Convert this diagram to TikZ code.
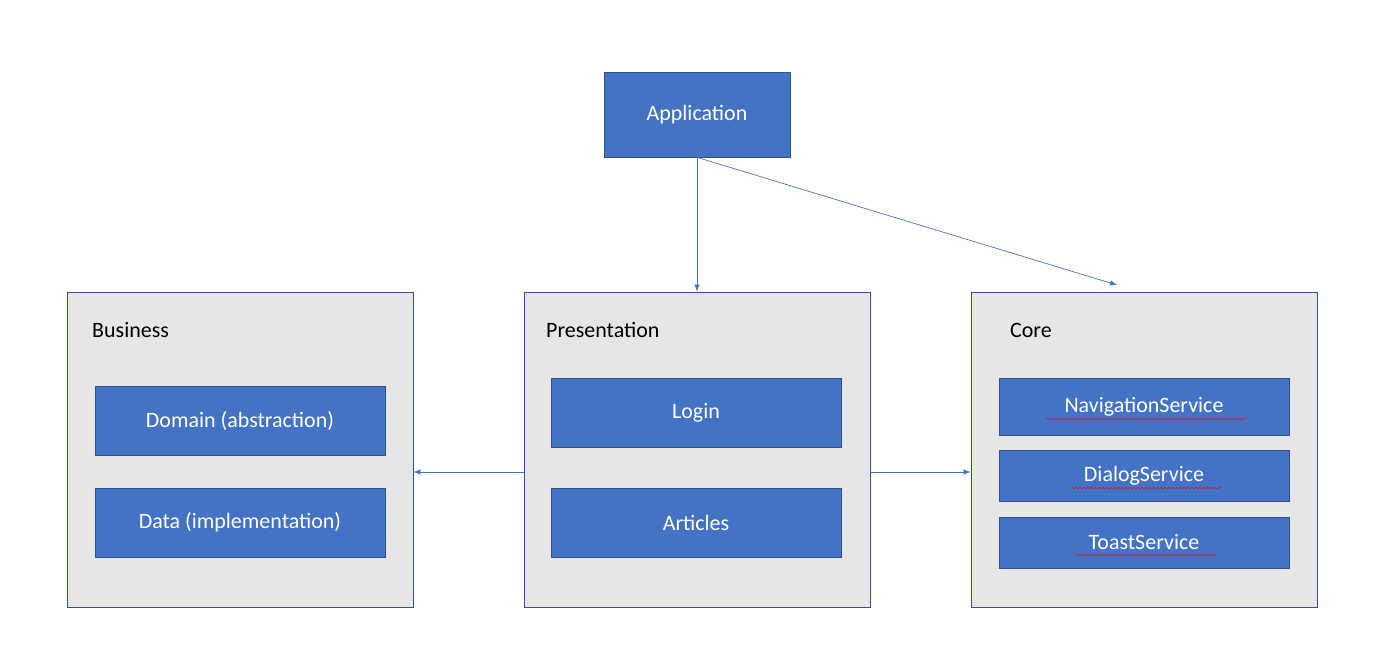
\documentclass[tikz,border=0pt]{standalone}
\usepackage{fontspec}
\setmainfont{Carlito}
\usetikzlibrary{decorations.pathmorphing}

\definecolor{accent}{HTML}{4472C4}
\definecolor{edge}{HTML}{2F528F}
\definecolor{panel}{HTML}{E7E6E6}

\tikzset{%
    block/.style={draw=edge,fill=accent,text=white,font=\fontsize{12.5}{15}\selectfont,inner sep=0pt},
    layer/.style={draw=edge,fill=panel,inner sep=0pt},
    caption/.style={anchor=west,font=\fontsize{12.5}{15}\selectfont},
    link/.style={->,>=latex,draw=accent,thin},
    typo/.style={red,very thin,decorate,decoration={snake,amplitude=0.5pt,segment length=2.2pt}},
}

\begin{document}
\begin{tikzpicture}[x=0.02cm,y=-0.02cm]
\useasboundingbox (0,0) rectangle (1400,663);

% layers
\node [layer,minimum width=346*0.02cm,minimum height=315*0.02cm] (business) at (240,449.5) {};
\node [layer,minimum width=346*0.02cm,minimum height=315*0.02cm] (presentation) at (697,449.5) {};
\node [layer,minimum width=346*0.02cm,minimum height=315*0.02cm] (core) at (1144,449.5) {};

\node [caption] (businessl) at (86,330) {Business};
\node [caption] (presentationl) at (540,330) {Presentation};
\node [caption] (corel) at (1004,330) {Core};

% blocks
\node [block,minimum width=186*0.02cm,minimum height=85*0.02cm] (app) at (697,114.5) {Application};

\node [block,minimum width=290*0.02cm,minimum height=69*0.02cm] (domain) at (240,420.5) {Domain (abstraction)};
\node [block,minimum width=290*0.02cm,minimum height=69*0.02cm] (data) at (240,522.5) {Data (implementation)};

\node [block,minimum width=290*0.02cm,minimum height=69*0.02cm] (login) at (696,412.5) {Login};
\node [block,minimum width=290*0.02cm,minimum height=69*0.02cm] (articles) at (696,522.5) {Articles};

\node [block,minimum width=290*0.02cm,minimum height=57*0.02cm] (nav) at (1144,406.5) {NavigationService};
\node [block,minimum width=290*0.02cm,minimum height=51*0.02cm] (dialog) at (1144,475.5) {DialogService};
\node [block,minimum width=290*0.02cm,minimum height=51*0.02cm] (toast) at (1144,542.5) {ToastService};

% spelling marks
\draw [typo] (1046,419) -- (1247,419);
\draw [typo] (1071,488) -- (1221,488);
\draw [typo] (1076,555) -- (1217,555);

% connectors
\coordinate (coretop) at (1117,285);
\draw [link] (app.south) -- (presentation.north);
\draw [link] (app.south) -- (coretop);
\draw [link] (presentation.west |- 0,472) -- (business.east |- 0,472);
\draw [link] (presentation.east |- 0,472) -- (core.west |- 0,472);

\end{tikzpicture}
\end{document}
